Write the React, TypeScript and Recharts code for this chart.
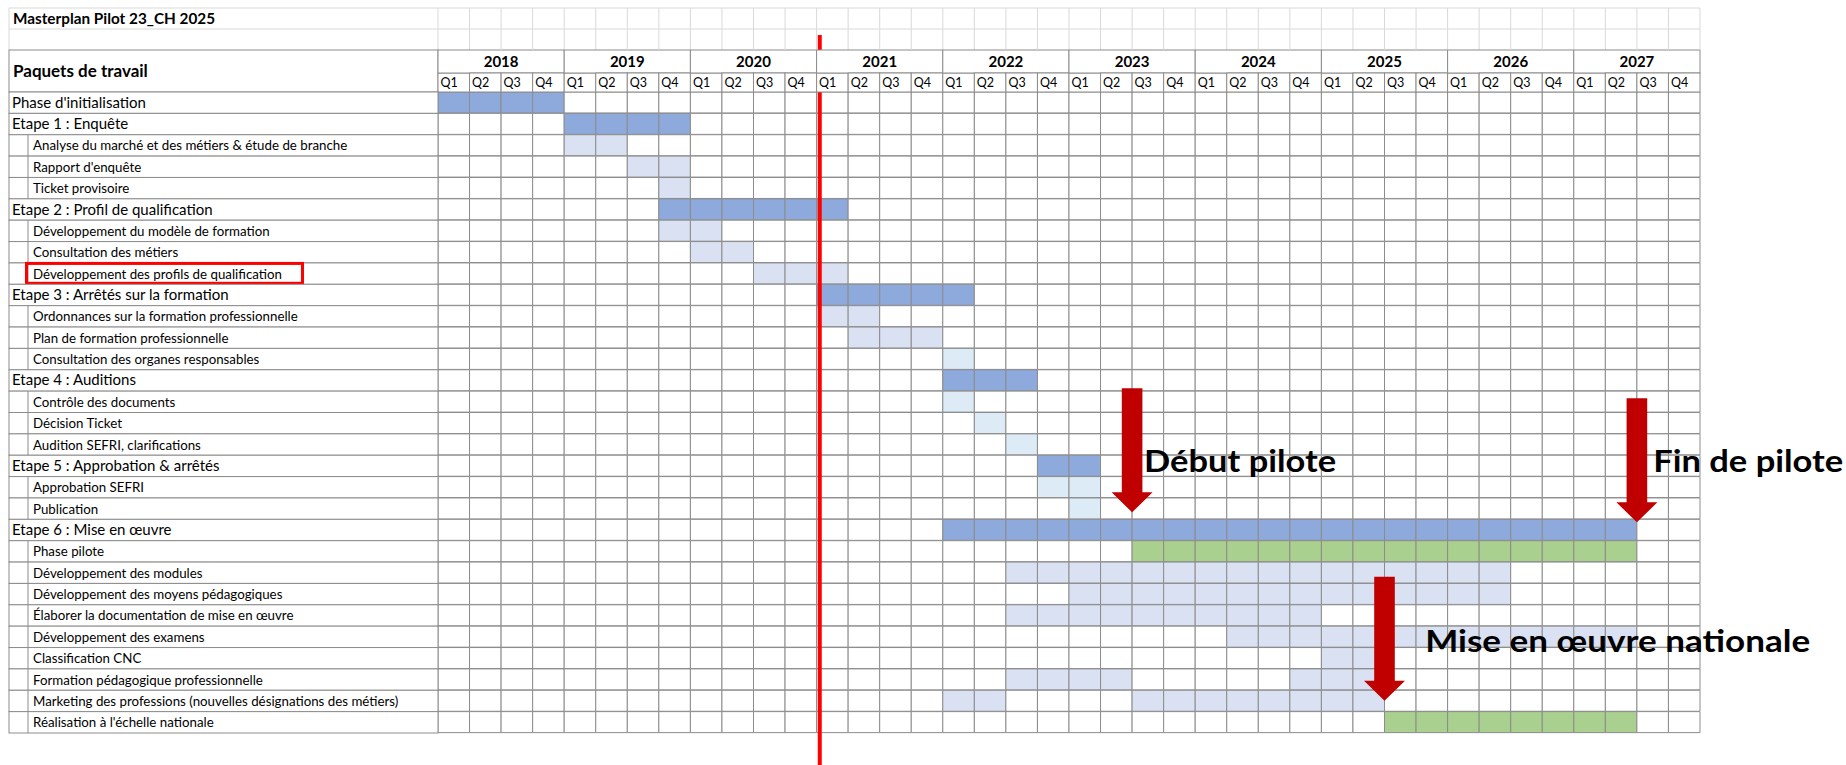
import React from 'react';
import { BarChart, Bar, Cell, XAxis, YAxis, ReferenceLine, ReferenceDot } from 'recharts';

const TITLE = 'Masterplan Pilot 23_CH 2025';
const HEADER_LABEL = 'Paquets de travail';

const YEARS = ['2018', '2019', '2020', '2021', '2022', '2023', '2024', '2025', '2026', '2027'];
const QUARTERS = ['Q1', 'Q2', 'Q3', 'Q4'];

const TASKS = [
  "Phase d'initialisation",
  'Etape 1 : Enquête',
  'Analyse du marché et des métiers & étude de branche',
  "Rapport d'enquête",
  'Ticket provisoire',
  'Etape 2 : Profil de qualification',
  'Développement du modèle de formation',
  'Consultation des métiers',
  'Développement des profils de qualification',
  'Etape 3 : Arrêtés sur la formation',
  'Ordonnances sur la formation professionnelle',
  'Plan de formation professionnelle',
  'Consultation des organes responsables',
  'Etape 4 : Auditions',
  'Contrôle des documents',
  'Décision Ticket',
  'Audition SEFRI, clarifications',
  'Etape 5 : Approbation & arrêtés',
  'Approbation SEFRI',
  'Publication',
  'Etape 6 : Mise en œuvre',
  'Phase pilote',
  'Développement des modules',
  'Développement des moyens pédagogiques',
  'Élaborer la documentation de mise en œuvre',
  'Développement des examens',
  'Classification CNC',
  'Formation pédagogique professionnelle',
  'Marketing des professions (nouvelles désignations des métiers)',
  "Réalisation à l'échelle nationale",
];

// 1 = stage header row, 0 = indented sub task
const IS_STAGE = [1, 1, 0, 0, 0, 1, 0, 0, 0, 1, 0, 0, 0, 1, 0, 0, 0, 1, 0, 0, 1, 0, 0, 0, 0, 0, 0, 0, 0, 0];

// quarter index, 0 = 2018 Q1 (inclusive ranges)
const START_Q = [0, 4, 4, 6, 7, 7, 7, 8, 10, 12, 12, 13, 16, 16, 16, 17, 18, 19, 19, 20, 16, 22, 18, 20, 18, 25, 28, 18, 16, 30];
const END_Q = [3, 7, 5, 7, 7, 12, 8, 9, 12, 16, 13, 15, 16, 18, 16, 17, 18, 20, 20, 20, 37, 37, 33, 33, 27, 37, 29, 21, 17, 37];
const START_Q2 = [null, null, null, null, null, null, null, null, null, null, null, null, null, null, null, null, null, null, null, null, null, null, null, null, null, null, null, 27, 22, null];
const END_Q2 = [null, null, null, null, null, null, null, null, null, null, null, null, null, null, null, null, null, null, null, null, null, null, null, null, null, null, null, 29, 29, null];

const SHADE = [
  'stage', 'stage', 'task', 'task', 'task', 'stage', 'task', 'task', 'task', 'stage',
  'task', 'task', 'review', 'stage', 'review', 'review', 'review', 'stage', 'review', 'review',
  'stage', 'pilot', 'task', 'task', 'task', 'task', 'task', 'task', 'task', 'national',
];

const HIGHLIGHT_TASK = 'Développement des profils de qualification';
const TODAY_Q = 12.1;

const MARKERS = [
  { label: 'Début pilote', q: 22, task: 'Etape 6 : Mise en œuvre' },
  { label: 'Fin de pilote', q: 38, task: 'Etape 6 : Mise en œuvre' },
  { label: 'Mise en œuvre nationale', q: 30, task: "Réalisation à l'échelle nationale" },
];

const COLORS: Record<string, string> = {
  stage: '#8ea9db',
  task: '#d9e1f2',
  review: '#ddebf7',
  pilot: '#a9d08e',
  national: '#a9d08e',
  empty: '#ffffff',
};

const GRID = '#8c8c8c';
const FAINT = '#d9d9d9';
const FONT = 'Lato, "Open Sans", sans-serif';

const W = 1846;
const H = 765;
const LABEL_W = 438;
const HEADER_H = 42;
const MARGIN = { top: 50, right: 146, bottom: 32, left: 0 };
const PLOT_W = W - LABEL_W - MARGIN.right;
const PLOT_H = H - MARGIN.top - HEADER_H - MARGIN.bottom;
const NQ = YEARS.length * QUARTERS.length;
const QW = PLOT_W / NQ;
const RH = PLOT_H / TASKS.length;

const QUARTER_KEYS = YEARS.flatMap((_, y) => QUARTERS.map((__, q) => `q${y * 4 + q}`));
const QUARTER_TICKS = QUARTER_KEYS.map((_, i) => i + 0.5);

const data = TASKS.map((task) => {
  const row: Record<string, string | number> = { task };
  QUARTER_KEYS.forEach((k) => { row[k] = 1; });
  return row;
});

const fillFor = (r: number, q: number) => {
  if (q >= START_Q[r] && q <= END_Q[r]) return COLORS[SHADE[r]];
  const s2 = START_Q2[r];
  const e2 = END_Q2[r];
  if (s2 !== null && e2 !== null && q >= s2 && q <= e2) return COLORS.task;
  return COLORS.empty;
};

const HeaderTick = (props: any) => {
  const { x, y, index } = props;
  const i = index as number;
  const left = x - QW / 2;
  const q = i % 4;
  const labelLeft = left - LABEL_W + 9;
  return (
    <g>
      {/* blank spreadsheet rows above the table */}
      <line x1={left} x2={left + QW} y1={y - 84} y2={y - 84} stroke={FAINT} />
      <line x1={left} x2={left + QW} y1={y - 63} y2={y - 63} stroke={FAINT} />
      <line x1={left + QW} x2={left + QW} y1={y - 84} y2={y - 42} stroke={FAINT} />
      {i === 0 && (
        <g>
          <line x1={labelLeft} x2={left} y1={y - 84} y2={y - 84} stroke={FAINT} />
          <line x1={labelLeft} x2={left} y1={y - 63} y2={y - 63} stroke={FAINT} />
          <line x1={labelLeft} x2={labelLeft} y1={y - 84} y2={y - 42} stroke={FAINT} />
          <line x1={left} x2={left} y1={y - 84} y2={y - 42} stroke={FAINT} />
          <text x={labelLeft + 4} y={y - 68.5} fontSize={15.3} fontWeight={700} fill="#000">{TITLE}</text>
          <rect x={labelLeft} y={y - 42} width={left - labelLeft} height={42} fill="#fff" stroke={GRID} />
          <text x={labelLeft + 4} y={y - 15} fontSize={17} fontWeight={700} fill="#000">{HEADER_LABEL}</text>
        </g>
      )}
      <rect x={left} y={y - 19} width={QW} height={19} fill="#fff" stroke={GRID} />
      <text x={left + 2.5} y={y - 5} fontSize={12.5} fill="#000">{QUARTERS[q]}</text>
      {q === 0 && (
        <g>
          <rect x={left} y={y - 42} width={QW * 4} height={23} fill="#fff" stroke={GRID} />
          <text x={left + QW * 2} y={y - 25} fontSize={15} fontWeight={700} textAnchor="middle" fill="#000">
            {YEARS[i / 4]}
          </text>
        </g>
      )}
    </g>
  );
};

const TaskTick = (props: any) => {
  const { x, y, payload } = props;
  const r = TASKS.indexOf(payload.value);
  const stage = IS_STAGE[r] === 1;
  const top = y - RH / 2;
  return (
    <g>
      <rect x={9} y={top} width={x - 9} height={RH} fill="#fff" stroke={GRID} />
      {!stage && <line x1={28} x2={28} y1={top} y2={top + RH} stroke={GRID} />}
      <text x={stage ? 12 : 33} y={y + 5} fontSize={stage ? 15 : 13.3} fill="#000">
        {payload.value}
      </text>
      {payload.value === HIGHLIGHT_TASK && (
        <rect x={26.5} y={top + 0.5} width={276} height={RH - 1.5} fill="none" stroke="#ff0000" strokeWidth={3} />
      )}
    </g>
  );
};

const ARROW_STYLE: Record<string, { dy: number; tx: number; ty: number; tw: number }> = {
  'Début pilote': { dy: -17.7, tx: 12, ty: -40.6, tw: 192 },
  'Fin de pilote': { dy: -7.7, tx: 16.3, ty: -50.6, tw: 190 },
  'Mise en œuvre nationale': { dy: -21.6, tx: 40.7, ty: -49, tw: 385 },
};

const arrowShape = (label: string) => (p: any) => {
  const s = ARROW_STYLE[label];
  const tx = p.cx;
  const ty = p.cy + s.dy;
  const pts = [
    [tx - 10.3, ty - 124], [tx + 10.3, ty - 124], [tx + 10.3, ty - 20], [tx + 20.5, ty - 20],
    [tx, ty], [tx - 20.5, ty - 20], [tx - 10.3, ty - 20],
  ].map((pt) => pt.join(',')).join(' ');
  return (
    <g>
      <polygon points={pts} fill="#c00000" />
      <text x={tx + s.tx} y={ty + s.ty} fontSize={31} fontWeight={700} fill="#000"
        textLength={s.tw} lengthAdjust="spacingAndGlyphs">
        {label}
      </text>
    </g>
  );
};

export default function App() {
  return (
    <div style={{ position: 'fixed', left: 0, top: 0, width: W, height: H, background: '#fff', fontFamily: FONT }}>
      <BarChart
        width={W}
        height={H}
        data={data}
        layout="vertical"
        margin={MARGIN}
        barCategoryGap={0}
        barGap={0}
        style={{ fontFamily: FONT }}
      >
        <XAxis
          type="number"
          orientation="top"
          domain={[0, NQ]}
          ticks={QUARTER_TICKS}
          interval={0}
          height={HEADER_H}
          tick={<HeaderTick />}
          tickLine={false}
          axisLine={false}
          tickSize={0}
          tickMargin={0}
        />
        <YAxis
          type="category"
          dataKey="task"
          width={LABEL_W}
          interval={0}
          tick={<TaskTick />}
          tickLine={false}
          axisLine={false}
          tickSize={0}
          tickMargin={0}
        />
        {QUARTER_KEYS.map((k, q) => (
          <Bar key={k} dataKey={k} stackId="grid" isAnimationActive={false} stroke={GRID} strokeWidth={1}>
            {TASKS.map((t, r) => (
              <Cell key={t} fill={fillFor(r, q)} stroke={GRID} />
            ))}
          </Bar>
        ))}
        <ReferenceLine
          x={TODAY_Q}
          stroke="#ff0000"
          strokeWidth={4}
          shape={(p: any) => (
            <line x1={p.x1} x2={p.x2} y1={Math.min(p.y1, p.y2) - 57} y2={Math.max(p.y1, p.y2) + 32} stroke="#ff0000" strokeWidth={4} />
          )}
        />
        {MARKERS.map((m) => (
          <ReferenceDot key={m.label} x={m.q} y={m.task} r={1} ifOverflow="visible" shape={arrowShape(m.label)} />
        ))}
      </BarChart>
    </div>
  );
}
